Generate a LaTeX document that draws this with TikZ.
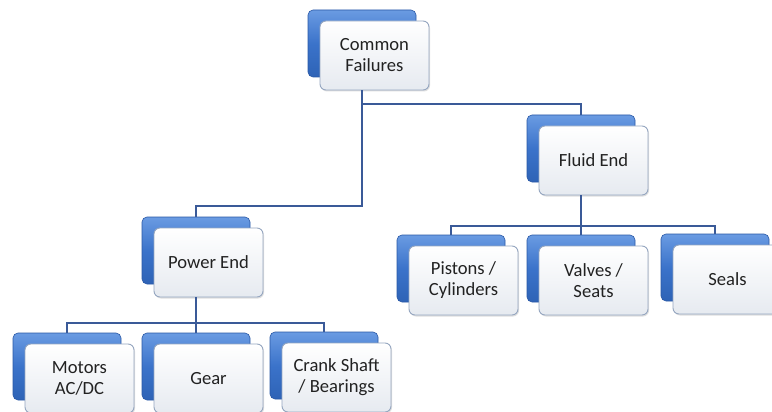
\documentclass[tikz,border=0pt]{standalone}
\usepackage{fontspec}
\setmainfont{Carlito}
\usetikzlibrary{shadows}
\definecolor{linec}{HTML}{3A5A98}
\definecolor{backtop}{HTML}{6A9BE2}
\definecolor{backmid}{HTML}{3B73CA}
\definecolor{backbot}{HTML}{2E63B6}
\definecolor{backdraw}{HTML}{2A58A6}
\definecolor{frontdraw}{HTML}{95A6C0}
\definecolor{frontbot}{HTML}{E6EAF0}
\definecolor{textc}{HTML}{222222}
\tikzset{
  backbox/.style={rectangle, rounded corners=5pt, draw=backdraw, line width=0.6pt,
    top color=backtop, bottom color=backbot, middle color=backmid,
    minimum width=108pt, minimum height=67pt, inner sep=0pt},
  frontbox/.style={rectangle, rounded corners=6pt, draw=frontdraw, line width=0.9pt,
    top color=white, bottom color=frontbot,
    minimum width=109pt, minimum height=69pt, inner sep=0pt, align=center,
    font=\fontsize{18.6}{21}\selectfont, text=textc,
    drop shadow={shadow xshift=1pt, shadow yshift=-1.5pt, opacity=0.25}},
  conn/.style={draw=linec, line width=2.2pt}
}
\newcommand{\twobox}[4]{%
  \node[backbox] (#1b) at (#2+54,#3+33.5) {};
  \node[frontbox] (#1) at (#2+66.5,#3+45.5) {#4};
}
\begin{document}
\begin{tikzpicture}[x=1pt,y=-1pt]
\fill[white] (0,0) rectangle (772,412);
\useasboundingbox (0,0) rectangle (772,412);
\twobox{cf}{308}{10}{Common\\Failures}
\twobox{fe}{527}{115}{Fluid End}
\twobox{pe}{142}{217}{Power End}
\twobox{pi}{397}{235}{Pistons /\\Cylinders}
\twobox{va}{527}{235}{Valves /\\Seats}
\twobox{se}{661}{234}{Seals}
\twobox{mo}{13}{333}{Motors\\AC/DC}
\twobox{ge}{142}{333}{Gear}
\twobox{cr}{270}{332}{Crank Shaft\\/ Bearings}
\coordinate (j1) at (0,206);
\coordinate (j2) at (0,104);
\coordinate (j3) at (0,323);
\coordinate (j4) at (0,226);
\draw[conn] (cfb.south |- cf.south) -- (cfb.south |- j1) -| (peb.north);
\draw[conn] (cfb.south |- j2) -| (feb.north);
\draw[conn] (peb.south |- pe.south) -- (geb.north);
\draw[conn] (mob.north) -- (mob.north |- j3) -- (crb.north |- j3) -- (crb.north);
\draw[conn] (feb.south |- fe.south) -- (vab.north);
\draw[conn] (pib.north) -- (pib.north |- j4) -- (seb.north |- j4) -- (seb.north);
\end{tikzpicture}
\end{document}
